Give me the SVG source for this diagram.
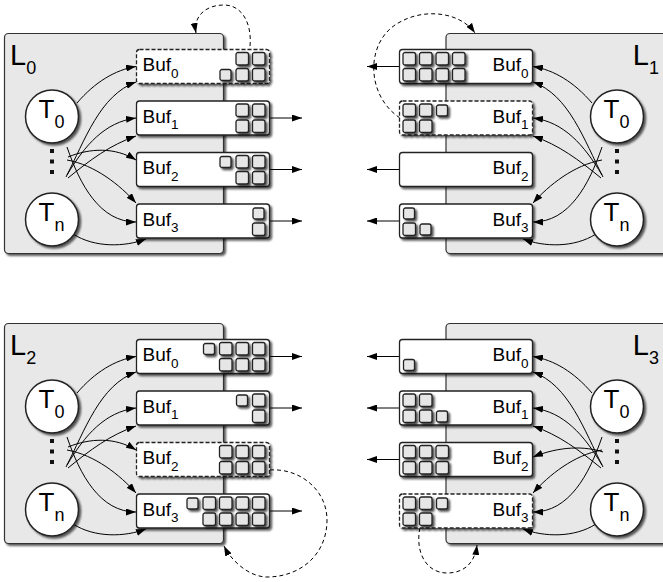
<svg xmlns="http://www.w3.org/2000/svg" xmlns:xlink="http://www.w3.org/1999/xlink" width="663" height="582" viewBox="0 0 663 582">
  <style>
    text { font-family: "Liberation Sans", Arial, Helvetica, sans-serif; fill: #000; }
    .panel { fill: #e8e8e8; stroke: #333; stroke-width: 1.2; }
    .thread { fill: #fff; stroke: #222; stroke-width: 1.5; }
    .buf { fill: #fff; stroke: #222; stroke-width: 1.3; }
    .dashed { stroke-dasharray: 4 2; }
    .big { font-size: 29px; }
    .bigsub { font-size: 18px; }
    .tl { font-size: 26px; }
    .tsub { font-size: 18px; }
    .bl { font-size: 19px; }
    .bsub { font-size: 13.5px; }
    .conn { fill: none; stroke: #000; stroke-width: 1; marker-end: url(#ah); }
    .loop { fill: none; stroke: #000; stroke-width: 1; stroke-dasharray: 4 3; marker-end: url(#ah); }
    .dot { fill: #111; }
  </style>
  <defs>
    <filter id="sh" x="-50%" y="-50%" width="200%" height="200%">
      <feGaussianBlur in="SourceAlpha" stdDeviation="1.2"/>
      <feOffset dx="2" dy="2"/>
      <feComponentTransfer><feFuncA type="linear" slope="0.65"/></feComponentTransfer>
      <feMerge><feMergeNode/><feMergeNode in="SourceGraphic"/></feMerge>
    </filter>
    <filter id="shs" x="-50%" y="-50%" width="200%" height="200%">
      <feGaussianBlur in="SourceAlpha" stdDeviation="0.8"/>
      <feOffset dx="1.5" dy="1.5"/>
      <feComponentTransfer><feFuncA type="linear" slope="0.7"/></feComponentTransfer>
      <feMerge><feMergeNode/><feMergeNode in="SourceGraphic"/></feMerge>
    </filter>
    <marker id="ah" viewBox="0 0 10 7" refX="10" refY="3.5" markerWidth="10" markerHeight="7" markerUnits="userSpaceOnUse" orient="auto">
      <path d="M0,0 L10,3.5 L0,7 Z" fill="#000"/>
    </marker>
    <!-- queued item: full and partially written -->
    <rect id="sq" width="12.5" height="12.5" rx="2" fill="#e6e6e6" stroke="#222" stroke-width="1.3"/>
    <rect id="sqs" width="11" height="11" rx="2" fill="#e6e6e6" stroke="#222" stroke-width="1.3"/>
  </defs>

  <!-- ===== panel boxes ===== -->
  <g id="L0">
    <rect class="panel" x="4.5" y="33.5" width="219" height="220" rx="4" filter="url(#sh)"/>
    <text class="big" x="10" y="65">L<tspan class="bigsub" dy="9">0</tspan></text>
  </g>
  <g id="L1">
    <rect class="panel" x="446" y="33.5" width="230" height="220" rx="4" filter="url(#sh)"/>
    <text class="big" x="659" y="65" text-anchor="end">L<tspan class="bigsub" dy="9">1</tspan></text>
  </g>
  <g id="L2">
    <rect class="panel" x="4.5" y="323.5" width="219" height="220" rx="4" filter="url(#sh)"/>
    <text class="big" x="10" y="355">L<tspan class="bigsub" dy="9">2</tspan></text>
  </g>
  <g id="L3">
    <rect class="panel" x="446" y="323.5" width="230" height="220" rx="4" filter="url(#sh)"/>
    <text class="big" x="659" y="355" text-anchor="end">L<tspan class="bigsub" dy="9">3</tspan></text>
  </g>

  <!-- ===== connectors ===== -->
  <g id="connectors">
    <!-- L0 threads to buffers -->
    <path class="conn" d="M77,103 C95,82 115,70 136,66.5"/>
    <path class="conn" d="M66,177 C85,140 100,95 136,82"/>
    <path class="conn" d="M67,175 C85,145 105,122 136,118"/>
    <path class="conn" d="M68,178 C90,160 110,145 136,136"/>
    <path class="conn" d="M68,157 C90,148 115,147 136,160"/>
    <path class="conn" d="M67,160 C95,165 120,185 136,203"/>
    <path class="conn" d="M67,147 C80,185 100,222 136,222"/>
    <path class="conn" d="M73,234 C95,248 125,247 146,239"/>
    <!-- L0 outputs -->
    <path class="conn" d="M269.5,118 H302"/>
    <path class="conn" d="M269.5,169.5 H302"/>
    <path class="conn" d="M269.5,221 H302"/>
    <path class="loop" d="M250,46 C252,25 243,5 224,5 C205,5 193,17 196,33"/>

    <!-- L1 threads to buffers -->
    <path class="conn" d="M592,103 C574,82 554,70 533,66.5"/>
    <path class="conn" d="M603,177 C584,140 569,95 533,82"/>
    <path class="conn" d="M602,175 C584,145 564,122 533,118"/>
    <path class="conn" d="M601,178 C579,160 559,145 533,136"/>
    <path class="conn" d="M602,160 C574,165 549,185 533,203"/>
    <path class="conn" d="M602,147 C589,185 569,222 533,222"/>
    <path class="conn" d="M596,234 C574,248 544,247 523,239"/>
    <!-- L1 outputs -->
    <path class="conn" d="M399.5,66.5 H367"/>
    <path class="conn" d="M399.5,169.5 H367"/>
    <path class="conn" d="M399.5,221 H367"/>
    <path class="loop" d="M400,118 C365,95 365,40 400,22 C425,8 460,12 475,33"/>

    <!-- L2 threads to buffers -->
    <path class="conn" d="M77,393 C95,372 115,360 136,356.5"/>
    <path class="conn" d="M66,467 C85,430 100,385 136,372"/>
    <path class="conn" d="M67,465 C85,435 105,412 136,408"/>
    <path class="conn" d="M68,468 C90,450 110,435 136,426"/>
    <path class="conn" d="M68,447 C90,438 115,437 136,450"/>
    <path class="conn" d="M67,450 C95,455 120,475 136,493"/>
    <path class="conn" d="M67,437 C80,475 100,512 136,512"/>
    <path class="conn" d="M73,524 C95,538 125,537 146,529"/>
    <!-- L2 outputs -->
    <path class="conn" d="M269.5,356.5 H302"/>
    <path class="conn" d="M269.5,408 H302"/>
    <path class="conn" d="M269.5,511 H302"/>
    <path class="loop" d="M270,470 C300,468 327,490 327,520 C327,555 300,577 267,577 C250,577 232,562 224,546"/>

    <!-- L3 threads to buffers -->
    <path class="conn" d="M592,393 C574,372 554,360 533,356.5"/>
    <path class="conn" d="M603,467 C584,430 569,385 533,372"/>
    <path class="conn" d="M602,465 C584,435 564,412 533,408"/>
    <path class="conn" d="M601,468 C579,450 559,435 533,426"/>
    <path class="conn" d="M603,452 C585,446 560,446 533,457"/>
    <path class="conn" d="M602,450 C574,455 549,475 533,493"/>
    <path class="conn" d="M602,437 C589,475 569,512 533,512"/>
    <path class="conn" d="M596,524 C574,538 544,537 523,529"/>
    <!-- L3 outputs -->
    <path class="conn" d="M399.5,356.5 H367"/>
    <path class="conn" d="M399.5,408 H367"/>
    <path class="conn" d="M399.5,459.5 H367"/>
    <path class="loop" d="M420,528 C415,550 425,573 447,573 C465,573 475,562 477,545"/>
  </g>

  <!-- ===== threads ===== -->
  <g id="L0-T0"><circle class="thread" cx="52" cy="116.5" r="26.5" filter="url(#sh)"/><text class="tl" x="51.5" y="117.5" text-anchor="middle">T<tspan class="tsub" dy="10">0</tspan></text></g>
  <g id="L0-dots"><rect class="dot" x="50" y="149" width="4" height="4"/><rect class="dot" x="50" y="159.5" width="4" height="4"/><rect class="dot" x="50" y="170" width="4" height="4"/></g>
  <g id="L0-Tn"><circle class="thread" cx="52" cy="219.5" r="26.5" filter="url(#sh)"/><text class="tl" x="51.5" y="220.5" text-anchor="middle">T<tspan class="tsub" dy="10">n</tspan></text></g>

  <g id="L1-T0"><circle class="thread" cx="617" cy="116.5" r="26.5" filter="url(#sh)"/><text class="tl" x="616.5" y="117.5" text-anchor="middle">T<tspan class="tsub" dy="10">0</tspan></text></g>
  <g id="L1-dots"><rect class="dot" x="615" y="149" width="4" height="4"/><rect class="dot" x="615" y="159.5" width="4" height="4"/><rect class="dot" x="615" y="170" width="4" height="4"/></g>
  <g id="L1-Tn"><circle class="thread" cx="617" cy="219.5" r="26.5" filter="url(#sh)"/><text class="tl" x="616.5" y="220.5" text-anchor="middle">T<tspan class="tsub" dy="10">n</tspan></text></g>

  <g id="L2-T0"><circle class="thread" cx="52" cy="406.5" r="26.5" filter="url(#sh)"/><text class="tl" x="51.5" y="407.5" text-anchor="middle">T<tspan class="tsub" dy="10">0</tspan></text></g>
  <g id="L2-dots"><rect class="dot" x="50" y="439" width="4" height="4"/><rect class="dot" x="50" y="449.5" width="4" height="4"/><rect class="dot" x="50" y="460" width="4" height="4"/></g>
  <g id="L2-Tn"><circle class="thread" cx="52" cy="509.5" r="26.5" filter="url(#sh)"/><text class="tl" x="51.5" y="510.5" text-anchor="middle">T<tspan class="tsub" dy="10">n</tspan></text></g>

  <g id="L3-T0"><circle class="thread" cx="617" cy="406.5" r="26.5" filter="url(#sh)"/><text class="tl" x="616.5" y="407.5" text-anchor="middle">T<tspan class="tsub" dy="10">0</tspan></text></g>
  <g id="L3-dots"><rect class="dot" x="615" y="439" width="4" height="4"/><rect class="dot" x="615" y="449.5" width="4" height="4"/><rect class="dot" x="615" y="460" width="4" height="4"/></g>
  <g id="L3-Tn"><circle class="thread" cx="617" cy="509.5" r="26.5" filter="url(#sh)"/><text class="tl" x="616.5" y="510.5" text-anchor="middle">T<tspan class="tsub" dy="10">n</tspan></text></g>

  <!-- ===== buffers: L0 ===== -->
  <g id="L0-Buf0">
    <rect class="buf dashed" x="136.5" y="49.5" width="133" height="34" rx="3" filter="url(#sh)"/>
    <text class="bl" x="142.5" y="71">Buf<tspan class="bsub" dy="6.5">0</tspan></text>
    <g filter="url(#shs)"><use href="#sq" x="252.5" y="52.5"/><use href="#sq" x="236" y="52.5"/><use href="#sq" x="252.5" y="68.5"/><use href="#sq" x="236" y="68.5"/><use href="#sqs" x="220" y="69.5"/></g>
  </g>
  <g id="L0-Buf1">
    <rect class="buf" x="136.5" y="101" width="133" height="34" rx="3" filter="url(#sh)"/>
    <text class="bl" x="142.5" y="122.5">Buf<tspan class="bsub" dy="6.5">1</tspan></text>
    <g filter="url(#shs)"><use href="#sq" x="252.5" y="104"/><use href="#sq" x="236" y="104"/><use href="#sq" x="252.5" y="120"/><use href="#sq" x="236" y="120"/></g>
  </g>
  <g id="L0-Buf2">
    <rect class="buf" x="136.5" y="152.5" width="133" height="34" rx="3" filter="url(#sh)"/>
    <text class="bl" x="142.5" y="174">Buf<tspan class="bsub" dy="6.5">2</tspan></text>
    <g filter="url(#shs)"><use href="#sq" x="252.5" y="155.5"/><use href="#sq" x="236" y="155.5"/><use href="#sqs" x="220" y="156.5"/><use href="#sq" x="252.5" y="171.5"/><use href="#sq" x="236" y="171.5"/></g>
  </g>
  <g id="L0-Buf3">
    <rect class="buf" x="136.5" y="204" width="133" height="34" rx="3" filter="url(#sh)"/>
    <text class="bl" x="142.5" y="225.5">Buf<tspan class="bsub" dy="6.5">3</tspan></text>
    <g filter="url(#shs)"><use href="#sqs" x="253" y="208"/><use href="#sq" x="252.5" y="223"/></g>
  </g>

  <!-- ===== buffers: L1 ===== -->
  <g id="L1-Buf0">
    <rect class="buf" x="399.5" y="49.5" width="133" height="34" rx="3" filter="url(#sh)"/>
    <text class="bl" x="528.5" y="71" text-anchor="end">Buf<tspan class="bsub" dy="6.5">0</tspan></text>
    <g filter="url(#shs)"><use href="#sq" x="403" y="52.5"/><use href="#sq" x="419.5" y="52.5"/><use href="#sq" x="436" y="52.5"/><use href="#sq" x="452.5" y="52.5"/><use href="#sq" x="403" y="68.5"/><use href="#sq" x="419.5" y="68.5"/><use href="#sq" x="436" y="68.5"/><use href="#sq" x="452.5" y="68.5"/></g>
  </g>
  <g id="L1-Buf1">
    <rect class="buf dashed" x="399.5" y="101" width="133" height="34" rx="3" filter="url(#sh)"/>
    <text class="bl" x="528.5" y="122.5" text-anchor="end">Buf<tspan class="bsub" dy="6.5">1</tspan></text>
    <g filter="url(#shs)"><use href="#sq" x="403" y="104"/><use href="#sq" x="419.5" y="104"/><use href="#sqs" x="436.5" y="105"/><use href="#sq" x="403" y="120"/><use href="#sq" x="419.5" y="120"/></g>
  </g>
  <g id="L1-Buf2">
    <rect class="buf" x="399.5" y="152.5" width="133" height="34" rx="3" filter="url(#sh)"/>
    <text class="bl" x="528.5" y="174" text-anchor="end">Buf<tspan class="bsub" dy="6.5">2</tspan></text>
  </g>
  <g id="L1-Buf3">
    <rect class="buf" x="399.5" y="204" width="133" height="34" rx="3" filter="url(#sh)"/>
    <text class="bl" x="528.5" y="225.5" text-anchor="end">Buf<tspan class="bsub" dy="6.5">3</tspan></text>
    <g filter="url(#shs)"><use href="#sqs" x="403.5" y="208"/><use href="#sq" x="403" y="223"/><use href="#sqs" x="420" y="224"/></g>
  </g>

  <!-- ===== buffers: L2 ===== -->
  <g id="L2-Buf0">
    <rect class="buf" x="136.5" y="339.5" width="133" height="34" rx="3" filter="url(#sh)"/>
    <text class="bl" x="142.5" y="361">Buf<tspan class="bsub" dy="6.5">0</tspan></text>
    <g filter="url(#shs)"><use href="#sq" x="252.5" y="342.5"/><use href="#sq" x="236" y="342.5"/><use href="#sq" x="219.5" y="342.5"/><use href="#sqs" x="203.5" y="343.5"/><use href="#sq" x="252.5" y="358.5"/><use href="#sq" x="236" y="358.5"/><use href="#sq" x="219.5" y="358.5"/></g>
  </g>
  <g id="L2-Buf1">
    <rect class="buf" x="136.5" y="391" width="133" height="34" rx="3" filter="url(#sh)"/>
    <text class="bl" x="142.5" y="412.5">Buf<tspan class="bsub" dy="6.5">1</tspan></text>
    <g filter="url(#shs)"><use href="#sq" x="252.5" y="394"/><use href="#sqs" x="236.5" y="395"/><use href="#sq" x="252.5" y="410"/></g>
  </g>
  <g id="L2-Buf2">
    <rect class="buf dashed" x="136.5" y="442.5" width="133" height="34" rx="3" filter="url(#sh)"/>
    <text class="bl" x="142.5" y="464">Buf<tspan class="bsub" dy="6.5">2</tspan></text>
    <g filter="url(#shs)"><use href="#sq" x="252.5" y="445.5"/><use href="#sq" x="236" y="445.5"/><use href="#sq" x="219.5" y="445.5"/><use href="#sq" x="252.5" y="461.5"/><use href="#sq" x="236" y="461.5"/><use href="#sq" x="219.5" y="461.5"/></g>
  </g>
  <g id="L2-Buf3">
    <rect class="buf" x="136.5" y="494" width="133" height="34" rx="3" filter="url(#sh)"/>
    <text class="bl" x="142.5" y="515.5">Buf<tspan class="bsub" dy="6.5">3</tspan></text>
    <g filter="url(#shs)"><use href="#sq" x="252.5" y="497"/><use href="#sq" x="236" y="497"/><use href="#sq" x="219.5" y="497"/><use href="#sq" x="203" y="497"/><use href="#sqs" x="187" y="498"/><use href="#sq" x="252.5" y="513"/><use href="#sq" x="236" y="513"/><use href="#sq" x="219.5" y="513"/><use href="#sq" x="203" y="513"/></g>
  </g>

  <!-- ===== buffers: L3 ===== -->
  <g id="L3-Buf0">
    <rect class="buf" x="399.5" y="339.5" width="133" height="34" rx="3" filter="url(#sh)"/>
    <text class="bl" x="528.5" y="361" text-anchor="end">Buf<tspan class="bsub" dy="6.5">0</tspan></text>
    <g filter="url(#shs)"><use href="#sqs" x="403.5" y="359.5"/></g>
  </g>
  <g id="L3-Buf1">
    <rect class="buf" x="399.5" y="391" width="133" height="34" rx="3" filter="url(#sh)"/>
    <text class="bl" x="528.5" y="412.5" text-anchor="end">Buf<tspan class="bsub" dy="6.5">1</tspan></text>
    <g filter="url(#shs)"><use href="#sq" x="403" y="394"/><use href="#sq" x="419.5" y="394"/><use href="#sq" x="403" y="410"/><use href="#sq" x="419.5" y="410"/><use href="#sqs" x="436.5" y="411"/></g>
  </g>
  <g id="L3-Buf2">
    <rect class="buf" x="399.5" y="442.5" width="133" height="34" rx="3" filter="url(#sh)"/>
    <text class="bl" x="528.5" y="464" text-anchor="end">Buf<tspan class="bsub" dy="6.5">2</tspan></text>
    <g filter="url(#shs)"><use href="#sq" x="403" y="445.5"/><use href="#sq" x="419.5" y="445.5"/><use href="#sq" x="436" y="445.5"/><use href="#sq" x="403" y="461.5"/><use href="#sq" x="419.5" y="461.5"/><use href="#sq" x="436" y="461.5"/></g>
  </g>
  <g id="L3-Buf3">
    <rect class="buf dashed" x="399.5" y="494" width="133" height="34" rx="3" filter="url(#sh)"/>
    <text class="bl" x="528.5" y="515.5" text-anchor="end">Buf<tspan class="bsub" dy="6.5">3</tspan></text>
    <g filter="url(#shs)"><use href="#sq" x="403" y="497"/><use href="#sq" x="419.5" y="497"/><use href="#sqs" x="436.5" y="498"/><use href="#sq" x="403" y="513"/><use href="#sq" x="419.5" y="513"/></g>
  </g>
</svg>
